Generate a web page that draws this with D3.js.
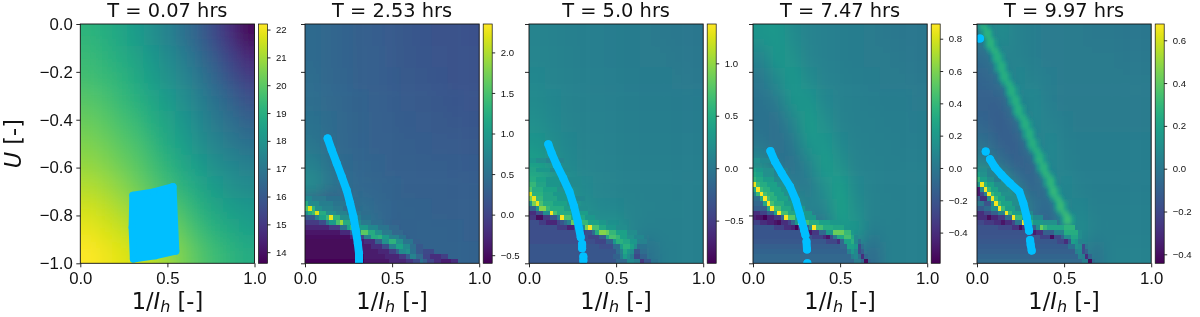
<!DOCTYPE html>
<html>
<head>
<meta charset="utf-8">
<script src="https://cdnjs.cloudflare.com/ajax/libs/d3/7.8.5/d3.min.js"></script>
<style>
body { margin: 0; background: #fff; }
svg { display: block; font-family: "DejaVu Sans", sans-serif; filter: blur(0.35px); }
.axis path, .axis line { stroke: #111; stroke-width: 0.9; }
.axis text { fill: #111; }
</style>
</head>
<body>
<div id="chart"></div>
<script>
const titles = ['T = 0.07 hrs', 'T = 2.53 hrs', 'T = 5.0 hrs', 'T = 7.47 hrs', 'T = 9.97 hrs']
const xTicks = [0, 0.5, 1]
const yTicks = [0, -0.2, -0.4, -0.6, -0.8, -1]

const colorDomains = [[13.6, 22.2], [-0.6, 2.35], [-0.907, 1.375], [-0.59, 0.891], [-0.442, 0.676]]
const colorTicks = [
	[14, 15, 16, 17, 18, 19, 20, 21, 22],
	[-0.5, 0, 0.5, 1, 1.5, 2],
	[-0.5, 0, 0.5, 1],
	[-0.4, -0.2, 0, 0.2, 0.4, 0.6, 0.8],
	[-0.4, -0.2, 0, 0.2, 0.4, 0.6]
]

// smooth part of each field, read at 11 x 11 places
const field1 = [
	[19.2,19.0,18.7,18.3,17.9,17.4,16.8,16.2,15.5,14.7,13.8],
	[19.4,19.2,18.9,18.6,18.2,17.7,17.2,16.6,16.0,15.3,14.6],
	[19.6,19.4,19.2,18.8,18.4,18.0,17.5,17.0,16.4,15.8,15.2],
	[19.9,19.7,19.4,19.1,18.7,18.3,17.8,17.3,16.8,16.3,15.8],
	[20.2,20.0,19.7,19.4,19.0,18.6,18.1,17.6,17.1,16.7,16.3],
	[20.5,20.3,20.0,19.7,19.3,18.8,18.4,17.9,17.5,17.1,16.8],
	[20.8,20.6,20.3,20.0,19.6,19.2,18.7,18.3,17.9,17.6,17.3],
	[21.2,21.0,20.7,20.3,19.9,19.5,19.1,18.7,18.3,18.0,17.7],
	[21.6,21.4,21.1,20.8,20.4,20.0,19.6,19.1,18.7,18.4,18.2],
	[21.9,21.7,21.5,21.2,20.9,20.5,20.0,19.5,19.1,18.8,18.5],
	[22.2,22.0,21.8,21.6,21.3,20.9,20.4,19.9,19.5,19.2,18.9]
]
const field2 = [
	[.42,.38,.34,.30,.26,.23,.20,.18,.16,.14,.13],
	[.42,.38,.34,.30,.27,.24,.21,.19,.17,.15,.14],
	[.44,.39,.35,.31,.28,.25,.22,.20,.18,.16,.15],
	[.46,.41,.36,.32,.29,.26,.24,.22,.20,.18,.17],
	[.50,.43,.37,.33,.30,.27,.25,.24,.22,.20,.19],
	[.56,.46,.39,.34,.31,.29,.27,.26,.24,.23,.22],
	[.68,.52,.42,.36,.33,.31,.29,.28,.27,.26,.25],
	[.85,.60,.46,.38,.35,.33,.31,.30,.29,.28,.27],
	[.10,.00,.40,.50,.40,.34,.33,.32,.31,.30,.29],
	[-.50,-.40,.00,.60,.50,.30,.32,.33,.33,.32,.31],
	[-.55,-.50,-.20,.30,.50,.10,.30,.33,.33,.33,.32]
]
const field3 = [
	[.12,.10,.08,.07,.06,.05,.04,.03,.02,.01,.00],
	[.13,.11,.09,.07,.06,.05,.04,.03,.03,.02,.01],
	[.15,.12,.10,.08,.07,.06,.05,.04,.04,.03,.02],
	[.18,.14,.11,.09,.08,.07,.06,.05,.05,.04,.04],
	[.22,.16,.12,.10,.09,.08,.07,.06,.06,.05,.05],
	[.28,.20,.14,.11,.10,.09,.08,.07,.07,.06,.06],
	[.38,.26,.17,.13,.11,.10,.09,.08,.08,.07,.07],
	[.55,.35,.24,.16,.13,.11,.10,.09,.09,.08,.08],
	[.10,.45,.30,.22,.15,.14,.12,.10,.09,.09,.08],
	[-.40,-.35,-.10,.35,.25,.30,.12,.08,.08,.08,.08],
	[-.35,-.30,-.30,-.25,-.05,.30,.10,-.10,.06,.08,.08]
]
const field4 = [
	[.18,.20,.12,.07,.05,.04,.03,.02,.01,.00,.00],
	[.08,.20,.16,.08,.05,.04,.03,.02,.02,.01,.00],
	[.00,.12,.20,.12,.06,.05,.04,.03,.02,.02,.01],
	[-.03,.02,.18,.18,.09,.06,.05,.04,.03,.03,.02],
	[-.04,-.05,.08,.22,.14,.07,.05,.05,.04,.04,.03],
	[.00,-.06,.00,.18,.20,.10,.06,.05,.05,.04,.04],
	[.12,-.02,-.05,.06,.22,.16,.07,.06,.05,.05,.05],
	[.35,.18,.02,.00,.14,.24,.10,.06,.05,.05,.05],
	[-.10,.25,.20,.08,.08,.26,.14,.07,.06,.05,.05],
	[-.20,-.20,-.20,-.10,-.05,.20,.20,.03,.05,.05,.05],
	[-.20,-.20,-.20,-.15,-.10,.05,.05,-.10,.05,.05,.05]
]
const field5 = [
	[.02,.10,.05,.03,.02,.02,.02,.01,.01,.00,.00],
	[-.05,.06,.06,.03,.02,.02,.02,.02,.02,.01,.01],
	[-.08,-.03,.08,.05,.03,.02,.02,.02,.02,.02,.02],
	[-.10,-.10,.04,.08,.03,.02,.02,.02,.02,.02,.02],
	[-.08,-.13,-.06,.08,.05,.03,.02,.02,.02,.02,.02],
	[-.03,-.10,-.12,.02,.08,.04,.03,.03,.03,.03,.03],
	[.05,-.03,-.10,-.10,.08,.06,.03,.03,.03,.03,.03],
	[.30,.20,.02,-.10,-.02,.08,.04,.03,.03,.03,.03],
	[-.20,.15,.18,.00,-.08,.06,.07,.04,.04,.04,.04],
	[-.18,-.18,-.16,-.10,-.10,.04,.10,.05,.04,.04,.04],
	[-.18,-.18,-.18,-.15,-.12,.00,.05,-.02,.05,.05,.05]
]

// faint ridge of the last panel, same form as the cells below
const ridge5 = [
	[0,0,.14,1,.27,2,.14,1],[1,1,.14,1,.27,2,.14,1],[2,1,.14,1,.27,2,.14,1],[3,2,.14,1,.27,2,.14,1],
	[4,2,.14,1,.27,2,.14,1],[5,3,.14,1,.27,2,.14,1],[6,4,.14,1,.26,2,.14,1],[7,4,.14,1,.26,2,.14,1],
	[8,5,.14,1,.26,2,.14,1],[9,5,.14,1,.25,2,.14,1],[10,6,.14,1,.25,2,.14,1],[11,6,.14,1,.25,2,.14,1],
	[12,7,.14,1,.25,2,.14,1],[13,8,.14,1,.25,2,.14,1],[14,8,.14,1,.25,2,.14,1],[15,9,.14,1,.25,2,.14,1],
	[16,9,.14,1,.25,2,.14,1],[17,10,.14,1,.25,2,.14,1],[18,10,.14,1,.25,2,.14,1],[19,11,.14,1,.25,2,.14,1],
	[20,12,.14,1,.25,2,.14,1],[21,12,.14,1,.25,2,.14,1],[22,13,.14,1,.25,2,.14,1],[23,13,.14,1,.25,2,.14,1],
	[24,14,.14,1,.25,2,.14,1],[25,14,.14,1,.26,2,.14,1],[26,15,.14,1,.26,2,.14,1],[27,16,.14,1,.26,2,.14,1],
	[28,16,.15,1,.27,2,.15,1],[29,17,.15,1,.27,2,.15,1],[30,17,.15,1,.27,2,.15,1],[31,18,.15,1,.28,2,.15,1],
	[32,19,.15,1,.28,2,.15,1],[33,19,.15,1,.28,2,.15,1],[34,20,.16,1,.29,2,.16,1],[35,20,.16,1,.29,2,.16,1],
	[36,21,.16,1,.29,2,.16,1],[37,22,.16,1,.3,2,.16,1],[38,22,.16,1,.3,2,.16,1],[39,23,.16,1,.3,2,.16,1],
	[40,24,.17,1,.31,2,.17,1],[41,24,.17,1,.31,2,.17,1]
]

// sharp cells of the 50 x 50 grid: [row, first column, value, count, value, count, ...]
const cells1 = []
const cells2 = [
	[36,0,.75,2,.6,4,.5,5],
	[37,0,1.2,1,.8,3,.65,4,.55,4],
	[38,0,1.5,1,2.2,1,1.3,1,.85,2,.7,3,.6,3,.45,4],
	[39,0,.9,1,1.2,1,1.4,1,2.2,1,1.2,2,.85,3,.7,3,.55,4,.45,3],
	[40,0,.25,3,.7,1,1.1,2,1.4,1,2.25,1,1.3,2,.85,3,.65,3,.5,3],
	[41,0,-.1,4,.1,2,.6,1,1,2,1.5,1,1.9,1,1.2,2,.8,3,.6,3,.45,3],
	[42,0,-.3,7,-.1,3,.5,2,1.1,1,1.4,1,1,4,.75,3,.55,3,.4,3],
	[43,0,-.45,10,-.25,3,.3,1,.9,2,1.6,2,1.2,2,.9,2,.6,3,.4,3],
	[44,0,-.5,13,-.3,2,0,2,.7,2,1.2,2,1.3,1,1,2,.7,3,.5,2],
	[45,0,-.55,14,-.35,3,-.2,3,.3,2,.9,2,1.3,2,.9,2,.55,3,.3,2],
	[46,0,-.55,15,-.4,4,-.2,3,.1,2,.7,2,1.1,2,.8,2,.45,2,.2,2],
	[47,0,-.55,16,-.4,5,-.3,3,-.05,2,.3,1,.8,2,.9,1,.5,2,.2,2,.05,3],
	[48,0,-.55,17,-.4,6,-.3,4,-.1,2,.25,1,.7,2,.4,2,0,2,-.2,3,-.05,2],
	[49,0,-.58,17,-.45,7,-.3,5,-.15,2,.05,2,.5,1,.3,1,0,2,-.2,2,-.35,3,-.2,2]
]
const cells3 = [
	[28,0,.3,2,.2,3,.12,5],
	[30,0,.42,2,.3,4,.18,6],
	[32,0,.5,2,.4,3,.28,4,.18,6],
	[33,0,.6,2,.42,3,.28,4,.18,6],
	[34,0,.75,1,.5,3,.4,4,.25,5],
	[35,0,1.25,1,.55,3,.42,3,.3,6],
	[36,0,.9,1,1.3,1,.6,2,.42,4,.3,5,.15,3],
	[37,0,.3,1,.9,1,1.3,1,.7,1,.5,3,.4,4,.25,4],
	[38,0,-.2,2,.3,1,.95,2,.6,1,.5,4,.35,4,.2,3],
	[39,0,-.6,2,-.35,2,.2,2,1.35,1,.7,1,.5,4,.35,5,.2,3],
	[40,0,-.55,2,-.85,2,-.55,2,-.3,2,.1,1,1.35,1,.7,2,.45,4,.3,3],
	[41,0,-.35,3,-.5,2,-.65,3,-.45,1,-.3,1,-.1,1,.1,1,.85,2,.6,3,.4,3,.3,2],
	[42,0,-.35,8,-.5,3,-.7,2,-.4,1,.15,2,.9,1,1.35,1,.7,2,.45,2,.3,3,.2,3],
	[43,0,-.35,14,-.5,2,-.35,2,-.1,1,.5,1,.95,2,.85,1,.6,2,.4,3,.2,3],
	[44,0,-.35,17,-.45,3,-.25,2,.45,1,.7,2,.6,1,.4,2,.25,2,.15,3],
	[45,0,-.35,19,-.45,3,-.2,2,.3,1,.55,2,.45,2,.3,2,.1,3],
	[46,0,-.3,20,-.35,4,-.1,2,.35,1,.55,2,.4,1,.2,1,-.1,1,-.05,2],
	[47,0,-.3,25,-.1,1,.1,1,.45,1,.3,1,.2,1,-.3,2,-.1,2],
	[48,0,-.3,24,-.2,2,.05,1,.35,1,.2,1,.05,1,-.4,2,-.2,2],
	[49,0,-.3,25,-.15,3,.15,2,.05,2,-.55,1,-.3,2,-.05,2]
]
const cells4 = [
	[28,0,.15,2,.1,3],
	[30,0,.25,1,.2,2,.15,3,.05,4],
	[31,0,.3,1,.25,2,.15,3,.08,3],
	[32,0,.38,1,.3,2,.22,3,.12,3],
	[33,0,.85,1,.42,1,.32,2,.25,3,.15,3],
	[34,0,.3,1,.88,1,.42,1,.35,2,.25,3,.18,3],
	[35,0,.1,1,.4,1,.88,1,.45,1,.36,2,.25,3,.15,3],
	[36,0,-.05,2,.3,1,.88,1,.45,1,.35,2,.25,3,.15,3],
	[37,0,-.1,3,.3,1,.88,1,.45,1,.32,3,.22,4],
	[38,0,-.15,4,.3,1,.88,1,.45,2,.3,3,.2,4],
	[39,0,-.4,2,-.3,2,-.15,2,.25,1,.88,1,.45,2,.28,3,.2,4],
	[40,0,-.45,1,-.5,2,-.58,1,-.45,2,-.35,2,-.1,1,.88,1,.5,2,.28,3,.2,3],
	[41,0,-.3,2,-.4,2,-.45,2,-.5,1,-.55,1,-.4,2,-.3,1,-.1,1,.2,1,.88,1,.45,2,.32,3,.25,3,.2,3],
	[42,0,-.2,6,-.3,3,-.4,2,-.45,1,-.58,1,-.4,1,-.15,2,.15,1,.88,1,.45,2,.32,3,.28,3],
	[43,0,-.2,14,-.3,2,-.5,1,-.35,2,-.1,2,.2,2,.55,3,.4,2,.2,1],
	[44,0,-.2,17,-.3,3,-.4,1,-.5,1,-.25,1,0,1,.3,2,.45,2,.3,1,.1,1],
	[45,0,-.18,21,-.28,3,-.4,1,-.1,1,.25,2,.35,1,.1,1,-.05,1],
	[46,0,-.15,25,-.1,2,.25,2,.2,1,-.25,1,-.05,1],
	[47,0,-.12,27,.05,1,.2,1,.1,1,-.25,1,-.15,1],
	[48,0,-.1,28,.05,1,.1,1,-.05,1,-.4,1,-.1,1],
	[49,0,-.1,29,.02,2,-.1,1,-.55,1,-.1,1]
]
const cells5 = [
	[30,0,.12,1,.1,2,.05,3],
	[31,0,.2,1,.12,2,.05,3],
	[32,0,.3,1,.18,2,.1,2,.03,2],
	[33,0,.15,1,.65,1,.28,1,.2,2,.1,3],
	[34,0,-.35,1,.1,1,.66,1,.3,1,.2,2,.1,3],
	[35,0,-.35,1,-.2,1,.05,1,.66,1,.3,1,.22,2,.12,3],
	[36,0,-.1,1,-.3,2,.1,1,.66,1,.3,1,.2,2,.1,3],
	[37,0,0,2,-.15,2,.1,1,.66,1,.3,1,.2,3,.1,3],
	[38,0,-.12,2,-.05,2,.1,2,.66,1,.32,1,.18,3,.08,3],
	[39,0,-.3,2,-.2,2,-.1,2,.05,2,.66,1,.3,1,.18,3,.08,3],
	[40,0,-.3,3,-.42,1,-.32,2,-.25,2,-.05,2,.66,1,.3,2,.18,3,.08,3],
	[41,0,-.2,2,-.25,3,-.3,2,-.38,1,-.3,2,-.2,1,0,2,.66,1,.28,2,.15,3,.12,4],
	[42,0,-.16,6,-.2,4,-.28,2,-.42,1,-.3,1,-.1,3,.1,1,.42,1,.3,1,.22,5,.28,3],
	[43,0,-.16,14,-.22,2,-.36,1,-.28,2,-.1,3,.05,3,.25,4,.1,1],
	[44,0,-.15,18,-.22,3,-.4,1,-.2,2,-.08,1,.1,2,.22,2,.1,1],
	[45,0,-.14,23,-.2,2,-.3,1,-.12,1,.18,1,.15,1,.05,1],
	[46,0,-.12,26,-.02,2,.12,1,.1,1,-.2,1,0,1],
	[47,0,-.1,28,.05,1,.08,1,-.18,1,-.1,1],
	[48,0,-.08,29,.05,1,.03,1,-.3,1,-.08,1],
	[49,0,-.06,30,.03,2,-.42,1,-.05,1]
]

// points as [1/Ih, U], broken where the trace breaks
const track1 = [[[.302,-.716],[.42,-.702],[.532,-.68],[.54,-.82],[.548,-.949],[.43,-.968],[.305,-.982],[.298,-.85]]]
const track2 = [[[.13,-.478],[.153,-.526],[.182,-.582],[.211,-.638],[.239,-.694],[.259,-.749],[.278,-.805],[.291,-.861],[.303,-.916],[.31,-.958],[.31,-.993]]]
const track3 = [
	[[.111,-.503],[.13,-.54],[.159,-.589],[.197,-.645],[.232,-.701],[.259,-.763],[.28,-.826],[.297,-.891]],
	[[.305,-.919],[.305,-.937]],
	[[.312,-.972],[.312,-.989]]
]
const track4 = [
	[[.1,-.531],[.126,-.575],[.165,-.624],[.213,-.68],[.245,-.735],[.27,-.798],[.293,-.861],[.301,-.882]],
	[[.307,-.909],[.31,-.942]],
	[[.312,-1]]
]
const track5 = [
	[[.017,-.061]],
	[[.05,-.533]],
	[[.075,-.565],[.103,-.599],[.142,-.631],[.19,-.666],[.243,-.701],[.266,-.749],[.285,-.805],[.299,-.864]],
	[[.305,-.903],[.308,-.923],[.314,-.947]]
]

const fields = [field1, field2, field3, field4, field5]
const ridges = [[], [], [], [], ridge5]
const cells = [cells1, cells2, cells3, cells4, cells5]
const tracks = [track1, track2, track3, track4, track5]

const plotLeft = [80.3, 305, 529, 753, 977]
const plotWidth = 174.2
const plotTop = 24
const plotBottom = 263.3
const barGap = 4
const barWidth = 9
const gridSize = 50
const spill = 40
const dotSize = 8

const svg = d3.select('#chart').append('svg').attr('width', 1200).attr('height', 317)
const defs = svg.append('defs')

function addBlur(id, deviation) {
	defs.append('filter').attr('id', id)
		.attr('filterUnits', 'userSpaceOnUse')
		.attr('x', -100).attr('y', -100).attr('width', 1500).attr('height', 600)
		.append('feGaussianBlur').attr('stdDeviation', deviation)
}
addBlur('soft', '7 10')
addBlur('ridge', '1.6 2.2')
addBlur('softer', '0.5 0.6')

titles.forEach((title, i) => {
	const left = plotLeft[i]
	const right = left + plotWidth

	const x = d3.scaleLinear().domain([0, 1]).range([left, right])
	const y = d3.scaleLinear().domain([0, -1]).range([plotTop, plotBottom])
	const color = d3.scaleSequential(d3.interpolateViridis).domain(colorDomains[i]).clamp(true)

	const g = svg.append('g')

	defs.append('clipPath').attr('id', 'clip' + i)
		.append('rect')
		.attr('x', left).attr('y', plotTop)
		.attr('width', plotWidth).attr('height', plotBottom - plotTop)

	const plot = g.append('g').attr('clip-path', 'url(#clip' + i + ')')

	// smooth field, edge cells run past the frame so the blur does not fade there
	const field = fields[i]
	const fx = d3.scaleBand().domain(d3.range(field[0].length)).range([left, right])
	const fy = d3.scaleBand().domain(d3.range(field.length)).range([plotTop, plotBottom])
	const soft = plot.append('g').attr('filter', 'url(#soft)')

	field.forEach((row, r) => {
		row.forEach((v, c) => {
			const x0 = fx(c) - (c === 0 ? spill : 0)
			const x1 = fx(c) + fx.bandwidth() + (c === row.length - 1 ? spill : 0.5)
			const y0 = fy(r) - (r === 0 ? spill : 0)
			const y1 = fy(r) + fy.bandwidth() + (r === field.length - 1 ? spill : 0.5)
			soft.append('rect')
				.attr('x', x0).attr('y', y0)
				.attr('width', x1 - x0).attr('height', y1 - y0)
				.attr('fill', color(v))
		})
	})

	// cells of the fine grid
	const cx = d3.scaleLinear().domain([0, gridSize]).range([left, right])
	const cy = d3.scaleLinear().domain([0, gridSize]).range([plotTop, plotBottom])

	function drawCells(parent, entries) {
		entries.forEach(entry => {
			let col = entry[1]
			for (let k = 2; k < entry.length; k += 2) {
				parent.append('rect')
					.attr('x', cx(col))
					.attr('y', cy(entry[0]))
					.attr('width', cx(col + entry[k + 1]) - cx(col))
					.attr('height', cy(entry[0] + 1) - cy(entry[0]))
					.attr('fill', color(entry[k]))
				col += entry[k + 1]
			}
		})
	}

	drawCells(plot.append('g').attr('filter', 'url(#ridge)').attr('shape-rendering', 'crispEdges'), ridges[i])
	drawCells(plot.append('g').attr('filter', 'url(#softer)').attr('shape-rendering', 'crispEdges'), cells[i])

	// tracks
	const line = d3.line().x(d => x(d[0])).y(d => y(d[1]))
	tracks[i].forEach(track => {
		plot.append('path')
			.attr('d', i === 0 ? line(track) + 'Z' : line(track))
			.attr('fill', i === 0 ? 'deepskyblue' : 'none')
			.attr('stroke', 'deepskyblue')
			.attr('stroke-width', i === 0 ? 7.2 : dotSize)
			.attr('stroke-linecap', 'round')
			.attr('stroke-linejoin', 'round')
		plot.selectAll(null).data(track).enter().append('circle')
			.attr('cx', d => x(d[0]))
			.attr('cy', d => y(d[1]))
			.attr('r', (i === 0 ? 7.2 : dotSize) / 2)
			.attr('fill', 'deepskyblue')
	})

	// frame and axes
	g.append('rect')
		.attr('x', left).attr('y', plotTop)
		.attr('width', plotWidth).attr('height', plotBottom - plotTop)
		.attr('fill', 'none').attr('stroke', '#111').attr('stroke-width', 0.9)

	const xAxis = g.append('g').attr('class', 'axis')
		.attr('transform', 'translate(0,' + plotBottom + ')')
		.call(d3.axisBottom(x).tickValues(xTicks).tickFormat(d3.format('.1f')).tickSizeOuter(0).tickSize(4).tickPadding(5))
	xAxis.select('.domain').remove()
	xAxis.selectAll('text').style('font-size', '16.8px')

	const yAxis = g.append('g').attr('class', 'axis')
		.attr('transform', 'translate(' + left + ',0)')
		.call(d3.axisLeft(y).tickValues(yTicks)
			.tickFormat(i === 0 ? d3.format('.1f') : '')
			.tickSizeOuter(0).tickSize(4).tickPadding(3.5))
	yAxis.select('.domain').remove()
	yAxis.selectAll('text').style('font-size', '16.8px')

	g.append('text')
		.attr('x', (left + right) / 2).attr('y', 17)
		.attr('text-anchor', 'middle')
		.style('font-size', '19.4px').attr('fill', '#111')
		.text(title)

	const xLabel = g.append('text')
		.attr('x', (left + right) / 2).attr('y', 309)
		.attr('text-anchor', 'middle')
		.style('font-size', '22.5px').attr('fill', '#111')
	xLabel.append('tspan').text('1/')
	xLabel.append('tspan').style('font-style', 'italic').text('I')
	xLabel.append('tspan').style('font-style', 'italic').style('font-size', '16px').attr('dy', 3).text('h')
	xLabel.append('tspan').attr('dy', -3).text(' [-]')

	if (i === 0) {
		const yLabel = g.append('text')
			.attr('transform', 'translate(21,' + (plotTop + plotBottom) / 2 + ') rotate(-90)')
			.attr('text-anchor', 'middle')
			.style('font-size', '22.5px').attr('fill', '#111')
		yLabel.append('tspan').style('font-style', 'italic').text('U')
		yLabel.append('tspan').text(' [-]')
	}

	// colorbar
	const barLeft = right + barGap
	const barScale = d3.scaleLinear().domain(colorDomains[i]).range([plotBottom, plotTop])
	const gradient = defs.append('linearGradient').attr('id', 'bar' + i)
		.attr('x1', 0).attr('x2', 0).attr('y1', 1).attr('y2', 0)
	d3.range(0, 1.0001, 0.05).forEach(t => {
		gradient.append('stop').attr('offset', t).attr('stop-color', d3.interpolateViridis(t))
	})
	g.append('rect')
		.attr('x', barLeft).attr('y', plotTop)
		.attr('width', barWidth).attr('height', plotBottom - plotTop)
		.attr('fill', 'url(#bar' + i + ')')
		.attr('stroke', '#111').attr('stroke-width', 0.7)

	const barAxis = g.append('g').attr('class', 'axis')
		.attr('transform', 'translate(' + (barLeft + barWidth) + ',0)')
		.call(d3.axisRight(barScale).tickValues(colorTicks[i])
			.tickFormat(i === 0 ? d3.format('d') : d3.format('.1f'))
			.tickSizeOuter(0).tickSize(3).tickPadding(5.5))
	barAxis.select('.domain').remove()
	barAxis.selectAll('text').style('font-size', '9.6px')
})
</script>
</body>
</html>
